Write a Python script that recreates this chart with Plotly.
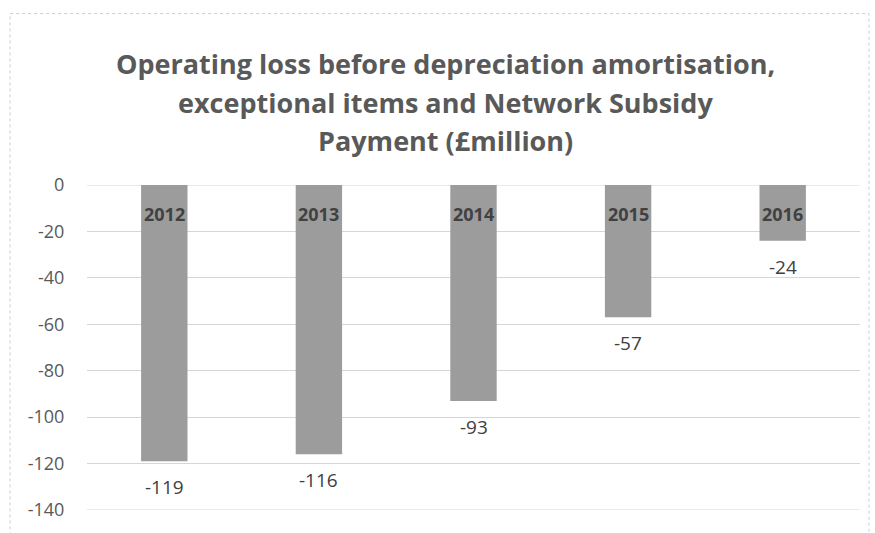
import plotly.graph_objects as go

years = ["2012", "2013", "2014", "2015", "2016"]
values = [-119, -116, -93, -57, -24]
y_ticks = [0, -20, -40, -60, -80, -100, -120, -140]
title_lines = [
    "Operating loss before depreciation amortisation,",
    "exceptional items and Network Subsidy",
    "Payment (£million)",
]

W, H = 875, 533
L, R, T, B = 87, 15, 185, 20
plot_w = W - L - R
plot_h = H - T - B


def px_to_paper_y(py):
    return (H - B - py) / plot_h


def px_to_paper_x(px):
    return (px - L) / plot_w


FONT = "Open Sans"
GRID = "#d6d6d6"
xs = list(range(len(years)))

fig = go.Figure()
fig.add_trace(go.Bar(
    x=xs,
    y=values,
    width=0.30,
    marker=dict(color="#9c9c9c", line=dict(width=0)),
    hoverinfo="skip",
))

annotations = []
# year labels just inside the top of each bar
for x, yr in zip(xs, years):
    annotations.append(dict(
        x=x, y=0, xref="x", yref="y", text="<b>%s</b>" % yr, showarrow=False,
        yanchor="top", yshift=-15,
        font=dict(family=FONT, size=18, color="#414141"),
    ))
# value labels below each bar end
for x, v in zip(xs, values):
    annotations.append(dict(
        x=x, y=v, xref="x", yref="y", text=str(v), showarrow=False,
        yanchor="top", yshift=-11,
        font=dict(family=FONT, size=19, color="#404040"),
    ))
# three-line chart title
for line, py in zip(title_lines, [62, 102, 140]):
    annotations.append(dict(
        x=px_to_paper_x(445), y=px_to_paper_y(py), xref="paper", yref="paper",
        text="<b>%s</b>" % line, showarrow=False, xanchor="center", yanchor="middle",
        font=dict(family=FONT, size=27, color="#595959"),
    ))

# gridlines at the two ends of the value range
edge_lines = [dict(
    type="line", xref="paper", yref="y", x0=0, x1=1, y0=v, y1=v,
    line=dict(color=GRID, width=1), layer="below",
) for v in (y_ticks[0], y_ticks[-1])]

fig.update_layout(
    width=W, height=H,
    margin=dict(l=L, r=R, t=T, b=B),
    paper_bgcolor="white", plot_bgcolor="white",
    showlegend=False,
    annotations=annotations,
    shapes=[dict(
        type="rect", xref="paper", yref="paper",
        x0=px_to_paper_x(10), x1=px_to_paper_x(869),
        y0=px_to_paper_y(540), y1=px_to_paper_y(12),
        line=dict(color="#cccccc", width=1, dash="dot"),
        fillcolor="rgba(0,0,0,0)", layer="below",
    )] + edge_lines,
    xaxis=dict(range=[-0.5, len(years) - 0.5], visible=False, fixedrange=True),
    yaxis=dict(
        range=[-140, 0], tickvals=y_ticks, ticktext=[str(t) for t in y_ticks],
        showgrid=True, gridcolor=GRID, gridwidth=1,
        zeroline=False, showline=False,
        ticks="outside", ticklen=18, tickcolor="rgba(0,0,0,0)",
        tickfont=dict(family=FONT, size=18, color="#595959"),
    ),
)

fig.write_html("out.html")
